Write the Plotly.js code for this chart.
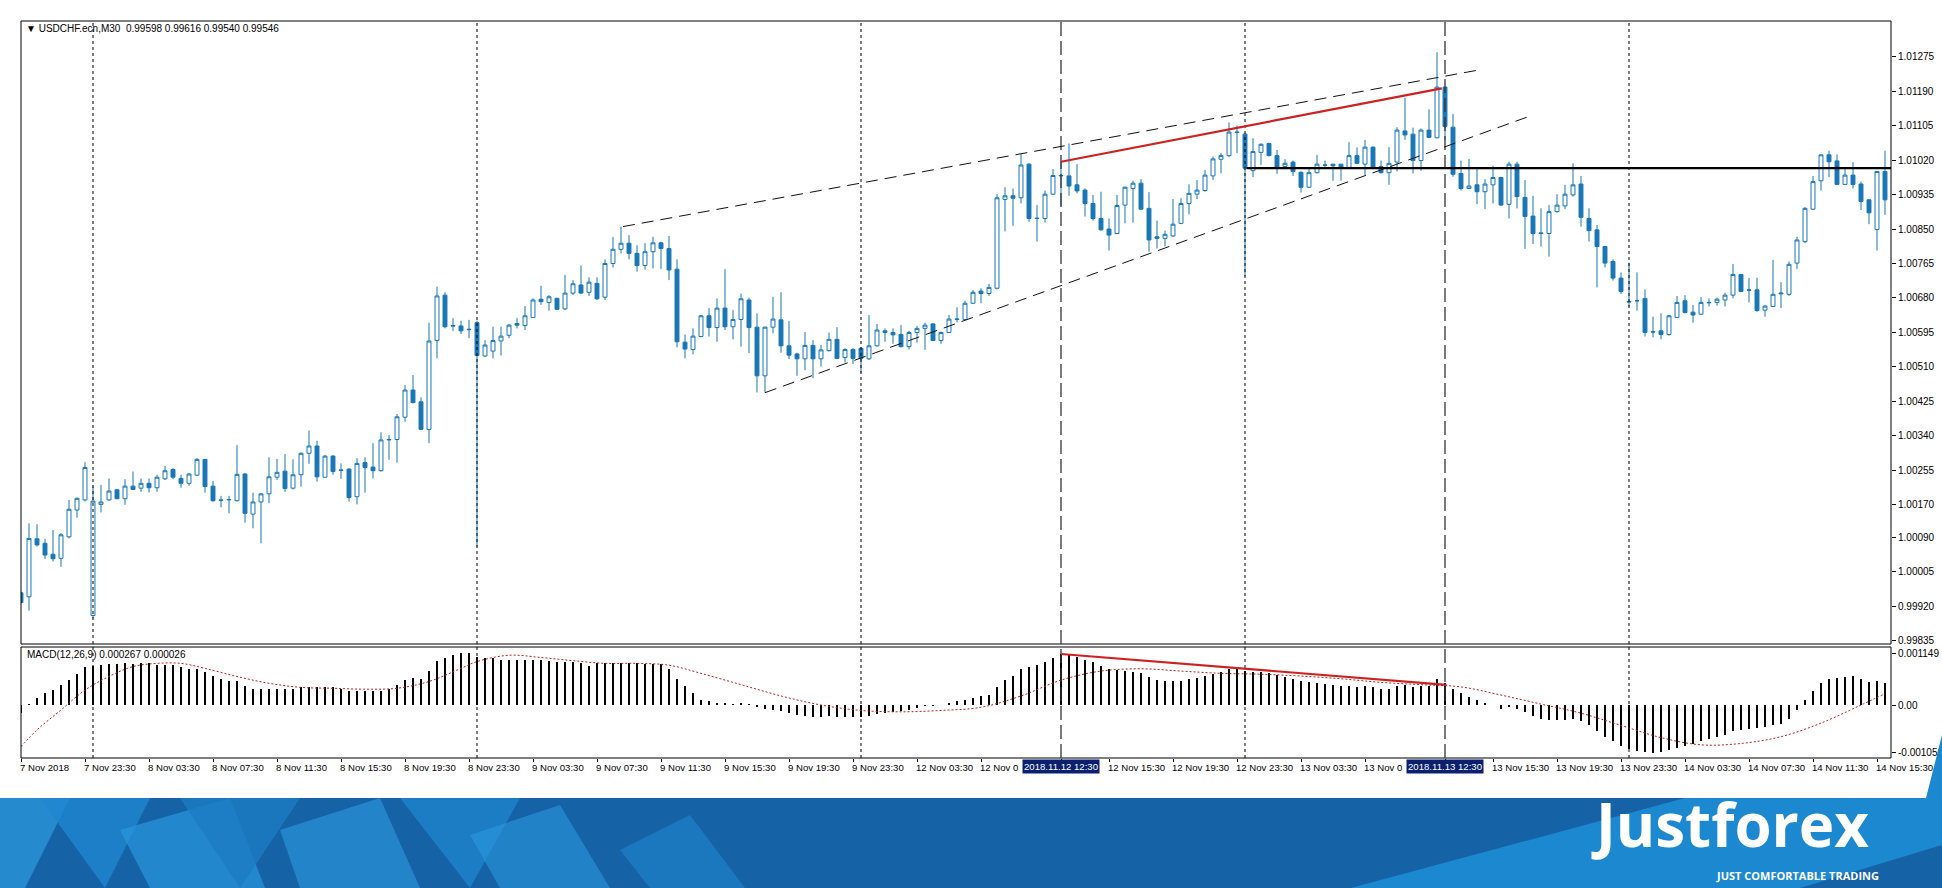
<!DOCTYPE html>
<html><head><meta charset="utf-8">
<script src="https://cdn.plot.ly/plotly-3.0.1.min.js"></script>
<style>html,body{margin:0;padding:0;background:#fff;overflow:hidden}#chart{width:1942px;height:888px}</style>
</head><body><div id="chart"></div>
<script>
// ---------- DATA (USDCHF.ecn M30, bar by bar) ----------
const openP = [
0.99953,0.99943,1.00086,1.00075,1.00048,1.00038,1.00091,1.00157,1.00182,0.99897,
1.00171,1.00182,1.00207,1.00185,1.00216,1.00211,1.00223,1.00212,1.00234,1.00257,
1.00235,1.00223,1.00243,1.00282,1.00216,1.00182,1.00182,1.00180,1.00246,1.00147,
1.00177,1.00197,1.00238,1.00253,1.00211,1.00244,1.00297,1.00315,1.00238,1.00290,
1.00256,1.00258,1.00190,1.00274,1.00263,1.00254,1.00330,1.00331,1.00386,1.00453,
1.00424,1.00356,1.00575,1.00687,1.00612,1.00611,1.00603,1.00619,1.00537,1.00549,
1.00574,1.00588,1.00617,1.00612,1.00632,1.00677,1.00669,1.00679,1.00653,1.00692,
1.00712,1.00694,1.00716,1.00682,1.00765,1.00800,1.00815,1.00790,1.00760,1.00794,
1.00816,1.00802,1.00751,1.00571,1.00553,1.00585,1.00636,1.00607,1.00655,1.00609,
1.00627,1.00675,1.00608,1.00488,1.00608,1.00626,1.00562,1.00542,1.00530,1.00563,
1.00530,1.00550,1.00578,1.00533,1.00553,1.00556,1.00530,1.00562,1.00599,1.00595,
1.00590,1.00560,1.00595,1.00605,1.00616,1.00575,1.00595,1.00627,1.00627,1.00667,
1.00697,1.00691,1.00704,1.00923,1.00932,1.00927,1.01010,1.00877,1.00876,1.00936,
1.00981,1.00981,1.00959,1.00946,1.00913,1.00876,1.00850,1.00839,1.00909,1.00950,
1.00963,1.00901,1.00831,1.00827,1.00833,1.00864,1.00913,1.00936,1.00945,1.00981,
1.01022,1.01031,1.01088,1.01084,1.00994,1.01039,1.01061,1.01031,1.01004,1.01015,
1.00990,1.00953,1.00989,1.01007,1.01010,1.01010,1.01002,1.01031,1.01010,1.01052,
1.01004,1.00989,1.01015,1.01092,1.01084,1.01019,1.01094,1.01075,1.01200,1.01101,
1.00987,1.00950,1.00959,1.00942,1.00959,1.00977,1.00911,1.01010,1.00928,1.00882,
1.00839,1.00839,1.00893,1.00907,1.00934,1.00961,1.00876,1.00848,1.00807,1.00770,
1.00729,1.00670,1.00673,1.00679,1.00597,1.00599,1.00590,1.00632,1.00673,1.00645,
1.00640,1.00668,1.00669,1.00675,1.00687,1.00738,1.00700,1.00700,1.00650,1.00659,
1.00690,1.00689,1.00766,1.00819,1.00899,1.00969,1.01033,1.01018,1.00960,1.00983,
1.00961,1.00922,1.00849,1.00992];
const highP = [
0.99956,1.00124,1.00122,1.00086,1.00108,1.00100,1.00182,1.00188,1.00275,1.00215,
1.00219,1.00235,1.00208,1.00233,1.00252,1.00235,1.00235,1.00244,1.00266,1.00260,
1.00244,1.00248,1.00285,1.00283,1.00229,1.00192,1.00192,1.00317,1.00248,1.00200,
1.00198,1.00287,1.00283,1.00295,1.00282,1.00299,1.00353,1.00328,1.00293,1.00293,
1.00272,1.00260,1.00285,1.00287,1.00322,1.00349,1.00342,1.00394,1.00465,1.00490,
1.00435,1.00619,1.00708,1.00694,1.00630,1.00624,1.00626,1.00624,1.00576,1.00609,
1.00609,1.00616,1.00630,1.00660,1.00679,1.00710,1.00687,1.00681,1.00737,1.00724,
1.00760,1.00731,1.00731,1.00775,1.00830,1.00856,1.00835,1.00810,1.00815,1.00831,
1.00819,1.00833,1.00775,1.00590,1.00605,1.00638,1.00655,1.00679,1.00751,1.00650,
1.00691,1.00681,1.00642,1.00609,1.00683,1.00694,1.00623,1.00545,1.00596,1.00576,
1.00564,1.00595,1.00608,1.00556,1.00556,1.00558,1.00638,1.00616,1.00605,1.00605,
1.00613,1.00599,1.00611,1.00619,1.00618,1.00597,1.00638,1.00657,1.00673,1.00700,
1.00704,1.00715,1.00936,1.00953,1.00950,1.01035,1.01012,1.00909,1.00945,1.00998,
1.01016,1.01061,1.01010,1.00950,1.00934,1.00942,1.00876,1.00934,1.00955,1.00969,
1.00973,1.00941,1.00871,1.00846,1.00924,1.00926,1.00960,1.00971,1.00996,1.01029,
1.01037,1.01113,1.01105,1.01086,1.01074,1.01061,1.01063,1.01045,1.01022,1.01019,
1.00992,1.01000,1.01033,1.01019,1.01010,1.01010,1.01064,1.01051,1.01070,1.01053,
1.01019,1.01052,1.01101,1.01174,1.01100,1.01098,1.01145,1.01286,1.01201,1.01134,
1.01019,1.01023,1.01000,1.00973,1.01006,1.00979,1.01016,1.01016,1.00971,1.00932,
1.00901,1.00909,1.00936,1.00959,1.01012,1.00981,1.00901,1.00860,1.00808,1.00775,
1.00743,1.00767,1.00743,1.00701,1.00634,1.00642,1.00638,1.00685,1.00687,1.00663,
1.00682,1.00679,1.00681,1.00693,1.00764,1.00739,1.00729,1.00730,1.00663,1.00774,
1.00719,1.00770,1.00831,1.00904,1.00981,1.01033,1.01043,1.01034,1.01001,1.01015,
1.00967,1.00923,1.00992,1.01043];
const lowP = [
0.99927,0.99909,1.00067,1.00036,1.00030,1.00017,1.00087,1.00138,1.00178,0.99890,
1.00151,1.00179,1.00184,1.00170,1.00207,1.00202,1.00200,1.00202,1.00231,1.00233,
1.00212,1.00217,1.00241,1.00200,1.00178,1.00164,1.00149,1.00178,1.00126,1.00112,
1.00075,1.00174,1.00231,1.00202,1.00208,1.00215,1.00271,1.00227,1.00237,1.00244,
1.00234,1.00178,1.00171,1.00200,1.00235,1.00252,1.00281,1.00274,1.00375,1.00420,
1.00354,1.00322,1.00531,1.00605,1.00599,1.00591,1.00581,1.00067,1.00534,1.00531,
1.00538,1.00581,1.00605,1.00601,1.00632,1.00663,1.00649,1.00650,1.00650,1.00687,
1.00690,1.00685,1.00675,1.00675,1.00755,1.00790,1.00775,1.00745,1.00750,1.00753,
1.00751,1.00724,1.00558,1.00531,1.00541,1.00583,1.00585,1.00572,1.00601,1.00578,
1.00560,1.00544,1.00447,1.00447,1.00593,1.00545,1.00529,1.00488,1.00502,1.00482,
1.00511,1.00548,1.00529,1.00521,1.00517,1.00496,1.00527,1.00560,1.00572,1.00567,
1.00558,1.00553,1.00570,1.00552,1.00574,1.00567,1.00593,1.00620,1.00626,1.00665,
1.00667,1.00685,1.00701,1.00844,1.00858,1.00913,1.00868,1.00819,1.00866,1.00934,
1.00907,1.00932,1.00938,1.00881,1.00871,1.00846,1.00797,1.00837,1.00864,1.00866,
1.00897,1.00794,1.00802,1.00807,1.00830,1.00862,1.00886,1.00924,1.00942,1.00971,
1.00987,1.01027,1.01037,1.00733,1.00978,1.01008,1.01029,1.00986,1.00997,1.00981,
1.00940,1.00952,1.00987,1.01000,1.00969,1.00969,1.01000,1.01010,1.00983,1.00998,
1.00987,1.00959,1.00992,1.01070,1.00987,1.00994,1.01074,1.01074,1.01070,1.00979,
1.00945,1.00950,1.00911,1.00899,1.00913,1.00908,1.00876,1.00901,1.00801,1.00813,
1.00807,1.00782,1.00890,1.00899,1.00930,1.00856,1.00819,1.00706,1.00755,1.00723,
1.00690,1.00659,1.00649,1.00585,1.00583,1.00578,1.00587,1.00630,1.00642,1.00619,
1.00638,1.00659,1.00661,1.00659,1.00679,1.00695,1.00669,1.00646,1.00634,1.00659,
1.00655,1.00685,1.00751,1.00815,1.00897,1.00945,1.00978,1.00960,1.00960,1.00950,
1.00897,1.00862,1.00797,1.00885];
const closeP = [
0.99929,1.00087,1.00071,1.00046,1.00037,1.00096,1.00159,1.00186,1.00262,1.00179,
1.00177,1.00204,1.00185,1.00216,1.00208,1.00223,1.00212,1.00238,1.00254,1.00238,
1.00223,1.00246,1.00282,1.00215,1.00180,1.00181,1.00183,1.00245,1.00149,1.00177,
1.00197,1.00239,1.00250,1.00210,1.00244,1.00297,1.00315,1.00239,1.00290,1.00252,
1.00255,1.00188,1.00272,1.00262,1.00254,1.00330,1.00331,1.00387,1.00453,1.00422,
1.00356,1.00574,1.00685,1.00609,1.00611,1.00599,1.00602,1.00538,1.00564,1.00575,
1.00586,1.00613,1.00613,1.00636,1.00675,1.00671,1.00683,1.00652,1.00692,1.00715,
1.00692,1.00719,1.00678,1.00765,1.00800,1.00815,1.00790,1.00760,1.00794,1.00816,
1.00802,1.00749,1.00572,1.00554,1.00586,1.00636,1.00607,1.00655,1.00609,1.00627,
1.00678,1.00607,1.00488,1.00608,1.00628,1.00562,1.00539,1.00530,1.00563,1.00530,
1.00552,1.00578,1.00531,1.00553,1.00531,1.00531,1.00562,1.00601,1.00595,1.00589,
1.00560,1.00595,1.00605,1.00613,1.00575,1.00595,1.00628,1.00628,1.00667,1.00694,
1.00691,1.00706,1.00927,1.00932,1.00926,1.01008,1.00876,1.00876,1.00936,1.00982,
1.00982,1.00956,1.00944,1.00913,1.00876,1.00848,1.00835,1.00908,1.00953,1.00963,
1.00899,1.00823,1.00827,1.00837,1.00862,1.00913,1.00938,1.00946,1.00983,1.01023,
1.01031,1.01089,1.01089,1.01000,1.01041,1.01059,1.01031,1.01000,1.01012,1.00992,
1.00953,1.00989,1.01010,1.01008,1.01006,1.01002,1.01031,1.01012,1.01052,1.01000,
1.00989,1.01012,1.01094,1.01082,1.01019,1.01094,1.01076,1.01200,1.01103,1.00985,
1.00950,1.00956,1.00942,1.00961,1.00977,1.00909,1.01010,1.00930,1.00881,1.00839,
1.00840,1.00893,1.00909,1.00936,1.00959,1.00879,1.00846,1.00807,1.00766,1.00729,
1.00696,1.00671,1.00673,1.00595,1.00596,1.00590,1.00636,1.00669,1.00644,1.00638,
1.00669,1.00669,1.00677,1.00687,1.00738,1.00696,1.00699,1.00649,1.00660,1.00689,
1.00692,1.00763,1.00823,1.00901,1.00967,1.01033,1.01016,1.00960,1.00983,1.00960,
1.00918,1.00890,1.00992,1.00922];

// MACD(12,26,9) main line drawn as histogram, one value per bar
const macdHist = [
-0.00018,0.00002,0.00015,0.00026,0.00033,0.00044,0.00055,0.00069,0.00085,0.00086,
0.00088,0.00091,0.00091,0.00093,0.00090,0.00092,0.00092,0.00088,0.00088,0.00088,
0.00083,0.00080,0.00080,0.00072,0.00065,0.00058,0.00052,0.00052,0.00042,0.00035,
0.00035,0.00035,0.00035,0.00035,0.00035,0.00039,0.00039,0.00039,0.00039,0.00039,
0.00035,0.00030,0.00030,0.00030,0.00030,0.00032,0.00035,0.00044,0.00055,0.00059,
0.00058,0.00076,0.00097,0.00105,0.00111,0.00114,0.00116,0.00107,0.00105,0.00105,
0.00100,0.00100,0.00100,0.00100,0.00100,0.00100,0.00098,0.00096,0.00096,0.00096,
0.00092,0.00087,0.00092,0.00092,0.00092,0.00092,0.00092,0.00092,0.00091,0.00091,
0.00091,0.00080,0.00058,0.00041,0.00027,0.00012,0.00008,0.00005,0.00004,0.00003,
0.00004,0.00002,-0.00005,-0.00008,-0.00010,-0.00014,-0.00018,-0.00022,-0.00024,-0.00026,
-0.00026,-0.00025,-0.00026,-0.00026,-0.00027,-0.00026,-0.00024,-0.00020,-0.00017,-0.00015,
-0.00013,-0.00010,-0.00006,-0.00003,-0.00002,0.00001,0.00004,0.00008,0.00012,0.00016,
0.00019,0.00022,0.00040,0.00055,0.00064,0.00080,0.00085,0.00088,0.00095,0.00105,
0.00112,0.00110,0.00106,0.00100,0.00094,0.00087,0.00080,0.00077,0.00076,0.00074,
0.00070,0.00062,0.00056,0.00052,0.00052,0.00054,0.00057,0.00060,0.00064,0.00069,
0.00073,0.00079,0.00082,0.00075,0.00074,0.00073,0.00070,0.00066,0.00062,0.00058,
0.00052,0.00050,0.00048,0.00046,0.00044,0.00042,0.00042,0.00040,0.00041,0.00039,
0.00036,0.00036,0.00042,0.00045,0.00040,0.00043,0.00042,0.00058,0.00048,0.00036,
0.00026,0.00018,0.00010,0.00004,0.00000,-0.00008,-0.00004,-0.00008,-0.00016,-0.00024,
-0.00030,-0.00033,-0.00034,-0.00033,-0.00030,-0.00036,-0.00044,-0.00058,-0.00070,-0.00080,
-0.00090,-0.00098,-0.00102,-0.00103,-0.00105,-0.00104,-0.00100,-0.00095,-0.00090,-0.00086,
-0.00080,-0.00076,-0.00070,-0.00066,-0.00058,-0.00055,-0.00052,-0.00050,-0.00049,-0.00045,
-0.00042,-0.00030,-0.00012,0.00010,0.00030,0.00048,0.00058,0.00060,0.00062,0.00064,
0.00058,0.00050,0.00052,0.00048];
// signal line, read at sampled bars
const signalBar = [0,2,5,8,11,14,17,20,23,27,31,35,39,43,47,51,55,57,61,65,69,73,77,81,85,
  90,95,100,105,110,115,120,125,130,135,140,145,150,155,160,165,170,175,180,185,190,195,200,205,210,215,220,225,230,233];
const signalVal = [-0.00092,-0.00055,-0.00011,0.00033,0.00063,0.00085,0.00092,0.00092,0.00081,0.00063,
  0.00048,0.00039,0.00037,0.00035,0.00037,0.00052,0.00081,0.00096,0.00110,0.00105,0.00098,0.00092,0.00092,0.00088,0.00070,
  0.00045,0.00020,0.00000,-0.00012,-0.00015,-0.00012,-0.00005,0.00020,0.00055,0.00075,0.00080,0.00075,0.00070,0.00068,
  0.00064,0.00058,0.00050,0.00045,0.00040,0.00022,0.00002,-0.00018,-0.00045,-0.00072,-0.00088,-0.00085,-0.00070,-0.00040,0.00000,0.00025];

// time axis labels (bar index, text as visible)
const timeTickBar = [0,8,16,24,32,40,48,56,64,72,80,88,96,104,112,120,136,144,152,160,168,184,192,200,208,216,224,232];
const timeTickText = ['7 Nov 2018','7 Nov 23:30','8 Nov 03:30','8 Nov 07:30','8 Nov 11:30','8 Nov 15:30','8 Nov 19:30',
  '8 Nov 23:30','9 Nov 03:30','9 Nov 07:30','9 Nov 11:30','9 Nov 15:30','9 Nov 19:30','9 Nov 23:30','12 Nov 03:30',
  '12 Nov 0','12 Nov 15:30','12 Nov 19:30','12 Nov 23:30','13 Nov 03:30','13 Nov 0','13 Nov 15:30',
  '13 Nov 19:30','13 Nov 23:30','14 Nov 03:30','14 Nov 07:30','14 Nov 11:30','14 Nov 15:30'];
const markedBar = [130,178];
const markedText = ['2018.11.12 12:30','2018.11.13 12:30'];
const daySepBar = [9,57,105,153,201];

const priceTicks = [1.01275,1.01190,1.01105,1.01020,1.00935,1.00850,1.00765,1.00680,1.00595,1.00510,
  1.00425,1.00340,1.00255,1.00170,1.00090,1.00005,0.99920,0.99835];
const priceTickText = ['1.01275','1.01190','1.01105','1.01020','1.00935','1.00850','1.00765','1.00680','1.00595','1.00510',
  '1.00425','1.00340','1.00255','1.00170','1.00090','1.00005','0.99920','0.99835'];
const macdTicks = [0.001149,0,-0.001056];
const macdTickText = ['0.001149','0.00','-0.001056'];

// drawn analysis objects: [bar0, value0, bar1, value1]
const channelUpper = [75.25,1.00856,181.9,1.01241];
const channelLower = [93,1.004465,188.2,1.011256];
const priceRedLine = [130,1.01016,177.6,1.01197];
const supportLine = [153.2,1.01000,233.75,1.01000];
const macdRedLine = [130,0.001127,178.2,0.000444];

const headerText = '\u25BC USDCHF.ecn,M30  0.99598 0.99616 0.99540 0.99546';
const macdText = 'MACD(12,26,9) 0.000267 0.000026';

// ---------- LAYOUT ----------
const W=1942,H=888,ML=21,MR=51,MT=21,MB=130;
const PW=W-ML-MR, PH=H-MT-MB;
const px = x => (x-ML)/PW, py = y => (H-MB-y)/PH;
const bars = openP.map((_,i)=>i);
const blue = '#1877b5';
const F = 'Liberation Sans, Arial, sans-serif';

const traces = [
 {type:'candlestick', x:bars, open:openP, high:highP, low:lowP, close:closeP, xaxis:'x', yaxis:'y',
  increasing:{line:{color:blue,width:1}, fillcolor:'#ffffff'},
  decreasing:{line:{color:blue,width:1}, fillcolor:blue},
  whiskerwidth:0, hoverinfo:'skip', showlegend:false},
 {type:'bar', x:bars, y:macdHist, xaxis:'x', yaxis:'y2', width:0.16,
  marker:{color:'#000000', line:{width:0}}, hoverinfo:'skip', showlegend:false},
 {type:'scatter', mode:'lines', x:signalBar, y:signalVal, xaxis:'x', yaxis:'y2',
  line:{color:'#b22222', width:1, dash:'2px,2px', shape:'spline', smoothing:1}, hoverinfo:'skip', showlegend:false}
];

const shapes = [];
const mainBottom = py(644), macdTop = py(647);
shapes.push({type:'rect',xref:'paper',yref:'paper',x0:0,x1:1,y0:mainBottom,y1:1,line:{color:'#000',width:1},fillcolor:'rgba(0,0,0,0)'});
shapes.push({type:'rect',xref:'paper',yref:'paper',x0:0,x1:1,y0:0,y1:macdTop,line:{color:'#000',width:1},fillcolor:'rgba(0,0,0,0)'});
daySepBar.forEach(b=>{
  shapes.push({type:'line',xref:'x',yref:'paper',x0:b,x1:b,y0:mainBottom,y1:1,line:{color:'#000',width:1,dash:'3px,3px'}});
  shapes.push({type:'line',xref:'x',yref:'paper',x0:b,x1:b,y0:0,y1:macdTop,line:{color:'#000',width:1,dash:'3px,3px'}});
});
markedBar.forEach(b=>{
  shapes.push({type:'line',xref:'x',yref:'paper',x0:b,x1:b,y0:mainBottom,y1:1,line:{color:'#333',width:1.3,dash:'14px,5px'}});
  shapes.push({type:'line',xref:'x',yref:'paper',x0:b,x1:b,y0:0,y1:macdTop,line:{color:'#333',width:1.3,dash:'14px,5px'}});
});
const seg = (a,yr,style)=>({type:'line',xref:'x',yref:yr,x0:a[0],y0:a[1],x1:a[2],y1:a[3],line:style});
shapes.push(seg(channelUpper,'y',{color:'#111',width:1,dash:'12px,7px'}));
shapes.push(seg(channelLower,'y',{color:'#111',width:1,dash:'12px,7px'}));
shapes.push(seg(supportLine,'y',{color:'#000',width:2.2}));
shapes.push(seg(priceRedLine,'y',{color:'#cc2222',width:2.2}));
shapes.push(seg(macdRedLine,'y2',{color:'#cc2222',width:2.2}));

// ---- footer banner (decoration) ----
const poly = (pts, color, op) => ({type:'path', xref:'paper', yref:'paper', layer:'above',
  path: 'M' + pts.map(p=>px(p[0]).toFixed(5)+','+py(p[1]).toFixed(5)).join(' L') + ' Z',
  fillcolor:color, opacity:op===undefined?1:op, line:{width:0}});
shapes.push(poly([[0,798],[W,798],[W,H],[0,H]],'#1563a6'));
shapes.push(poly([[0,798],[70,798],[25,888],[0,888]],'#2a93da',0.8));
shapes.push(poly([[40,798],[150,798],[105,888]],'#1f86cf',0.8));
shapes.push(poly([[120,830],[230,798],[265,888],[150,888]],'#2a97de',0.7));
shapes.push(poly([[180,798],[300,798],[240,888]],'#1b7cc4',0.8));
shapes.push(poly([[280,830],[380,798],[420,888],[300,888]],'#2a93da',0.7));
shapes.push(poly([[400,798],[520,798],[470,888]],'#1f86cf',0.75));
shapes.push(poly([[470,835],[560,805],[610,888],[500,888]],'#2a97de',0.6));
shapes.push(poly([[620,850],[690,815],[745,888],[650,888]],'#1f86cf',0.6));
shapes.push(poly([[1685,798],[1926,798],[W,735],[W,H],[1351,H]],'#1b88cf'));
shapes.push(poly([[1800,H],[W,845],[W,H]],'#1563a6'));

const annotations = [];
annotations.push({xref:'paper',yref:'paper',x:px(24),y:py(29),xanchor:'left',yanchor:'middle',showarrow:false,
  text:headerText,font:{family:F,size:10,color:'#000'}});
annotations.push({xref:'paper',yref:'paper',x:px(25),y:py(654),xanchor:'left',yanchor:'middle',showarrow:false,
  text:macdText,font:{family:F,size:10,color:'#000'}});
timeTickBar.forEach((b,k)=>{
  annotations.push({xref:'x',yref:'paper',x:b,y:py(767),xanchor:'left',yanchor:'middle',xshift:-2,showarrow:false,
    text:timeTickText[k],font:{family:F,size:9.6,color:'#000'},borderpad:0});
});
markedBar.forEach((b,k)=>{
  annotations.push({xref:'x',yref:'paper',x:b,y:py(766),xanchor:'center',yanchor:'middle',showarrow:false,
    text:markedText[k],font:{family:F,size:9.6,color:'#ffffff'},bgcolor:'#0a1f6e',borderpad:1});
});
annotations.push({xref:'paper',yref:'paper',x:px(1590),y:py(866),xanchor:'left',yanchor:'bottom',showarrow:false,
  borderpad:0,text:'<b>Justforex</b>',font:{family:'Liberation Sans Narrow, Open Sans, sans-serif',size:60,color:'#ffffff'}});
annotations.push({xref:'paper',yref:'paper',x:px(1880),y:py(867),xanchor:'right',yanchor:'top',showarrow:false,
  borderpad:0,text:'<b>JUST COMFORTABLE TRADING</b>',font:{family:'Liberation Sans Narrow, Open Sans, sans-serif',size:11,color:'#ffffff'}});

const layout = {
  width:W, height:H, margin:{l:ML,r:MR,t:MT,b:MB,pad:0},
  paper_bgcolor:'#ffffff', plot_bgcolor:'#ffffff', showlegend:false, bargap:0,
  xaxis:{anchor:'y2', range:[0,233.75], showgrid:false, zeroline:false, showline:false,
    rangeslider:{visible:false}, tickmode:'array', tickvals:timeTickBar.concat(markedBar),
    ticktext:timeTickBar.concat(markedBar).map(()=>''), ticks:'outside', ticklen:3, tickcolor:'#000', fixedrange:true},
  yaxis:{domain:[mainBottom,1], range:[0.998267,1.013630], side:'right', showgrid:false, zeroline:false,
    tickmode:'array', tickvals:priceTicks, ticktext:priceTickText, ticks:'outside', ticklen:4, tickcolor:'#000',
    tickfont:{family:F,size:10,color:'#000'}},
  yaxis2:{domain:[0,macdTop], range:[-0.001171,0.001282], side:'right', showgrid:false, zeroline:false,
    tickmode:'array', tickvals:macdTicks, ticktext:macdTickText, ticks:'outside', ticklen:4, tickcolor:'#000',
    tickfont:{family:F,size:10,color:'#000'}},
  shapes:shapes, annotations:annotations
};
Plotly.newPlot('chart', traces, layout, {staticPlot:true, displayModeBar:false});
</script></body></html>
